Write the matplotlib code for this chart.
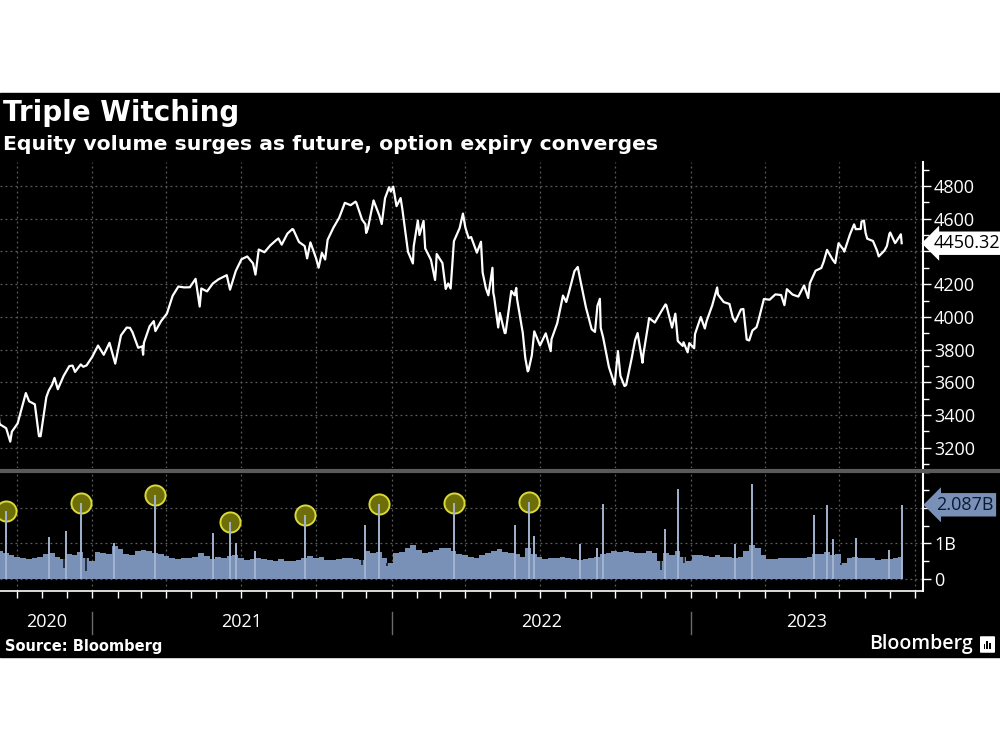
import matplotlib
matplotlib.use("Agg")
import matplotlib.pyplot as plt
import matplotlib.dates as mdates
import matplotlib.patches as mpatches
import matplotlib.transforms as mtransforms
from matplotlib.ticker import MultipleLocator, FixedLocator, FuncFormatter
import pandas as pd

# S&P 500 weekly closes (Fridays), Sep 11 2020 .. Sep 15 2023
price_values = [
    3340.97, 3319.47, 3298.46, 3348.44, 3477.13, 3483.81, 3465.39, 3269.96,
    3509.44, 3585.15, 3557.54, 3638.35, 3699.12, 3663.46, 3709.41, 3703.06, 3756.07,
    # 2021
    3824.68, 3768.25, 3841.47, 3714.24, 3886.83, 3934.83, 3906.71, 3811.15,
    3841.94, 3943.34, 3913.10, 3974.54, 4019.87, 4128.80, 4185.47, 4180.17, 4181.17,
    4232.60, 4173.85, 4155.86, 4204.11, 4229.89, 4247.44, 4166.45, 4280.70,
    4352.34, 4369.55, 4327.16, 4411.79, 4395.26, 4436.52, 4468.00, 4441.67, 4509.37,
    4535.43, 4458.58, 4432.99, 4455.48, 4357.04, 4391.34, 4471.37, 4544.90, 4605.38,
    4697.53, 4682.85, 4697.96, 4594.62, 4538.43, 4712.02, 4620.64, 4725.79, 4766.18,
    # 2022
    4677.03, 4662.85, 4397.94, 4431.85, 4500.53, 4418.64, 4348.87, 4384.65,
    4328.87, 4204.31, 4463.12, 4543.06, 4545.86, 4488.28, 4392.59, 4271.78, 4131.93,
    4123.34, 4023.89, 3901.36, 4158.24, 4108.54, 3900.86, 3674.84, 3911.74,
    3825.33, 3899.38, 3863.16, 3961.63, 4130.29, 4145.19, 4280.15, 4228.48, 4057.66,
    3924.26, 4067.36, 3873.33, 3693.23, 3585.62, 3639.66, 3583.07, 3752.75, 3901.06,
    3770.55, 3992.93, 3965.34, 4026.12, 4071.70, 3934.38, 3852.36, 3844.82, 3839.50,
    # 2023
    3895.08, 3999.09, 3972.61, 4070.56, 4136.48, 4090.46, 4079.09, 3970.04,
    4045.64, 3861.59, 3916.64, 3970.99, 4109.31, 4105.02, 4137.64, 4133.52, 4169.48,
    4136.25, 4124.08, 4191.98, 4205.45, 4282.37, 4298.86, 4409.59, 4348.33, 4450.38,
    4398.95, 4505.42, 4536.34, 4582.23, 4478.03, 4464.05, 4369.71, 4405.71,
    4515.77, 4457.49, 4450.32,
]
price_dates = pd.date_range("2020-09-11", "2023-09-15", freq="W-FRI")

# mid-week closes (turning points and swings)
extra_dates = pd.to_datetime([
    "2020-09-09", "2020-09-10", "2020-09-23", "2020-10-12", "2020-10-28",
    "2020-11-09", "2020-11-16", "2020-12-08", "2020-12-21",
    "2021-01-27", "2021-02-16", "2021-03-03", "2021-03-04", "2021-03-17",
    "2021-05-12", "2021-06-14", "2021-07-19", "2021-08-16", "2021-09-02",
    "2021-09-20", "2021-10-04", "2021-10-12", "2021-11-18", "2021-11-30",
    "2021-12-01", "2021-12-20", "2021-12-29",
    "2022-01-03", "2022-01-12", "2022-01-27", "2022-02-02", "2022-02-09",
    "2022-02-23", "2022-02-24", "2022-03-08", "2022-03-14", "2022-03-29",
    "2022-04-05", "2022-04-20", "2022-04-26", "2022-05-04", "2022-05-05",
    "2022-05-11", "2022-05-19", "2022-05-31", "2022-06-02", "2022-06-13",
    "2022-06-16", "2022-06-21", "2022-07-14", "2022-08-02", "2022-08-16",
    "2022-09-06", "2022-09-12", "2022-09-13", "2022-10-04", "2022-10-12",
    "2022-10-25", "2022-11-03", "2022-11-10", "2022-12-01", "2022-12-13",
    "2022-12-22", "2022-12-28",
    "2023-01-05", "2023-01-18", "2023-02-02", "2023-02-21", "2023-03-06",
    "2023-03-13", "2023-03-22", "2023-04-25", "2023-05-24", "2023-06-12",
    "2023-06-26", "2023-07-06", "2023-07-19", "2023-07-27", "2023-07-31",
    "2023-08-02", "2023-08-16", "2023-08-28", "2023-08-31", "2023-09-07",
    "2023-09-14",
])
extra_values = [
    3398.96, 3339.19, 3236.92, 3534.22, 3271.03,
    3550.50, 3626.91, 3702.25, 3694.92,
    3750.77, 3932.59, 3819.72, 3768.47, 3974.12,
    4063.04, 4255.15, 4258.49, 4479.71, 4536.95,
    4357.73, 4300.46, 4350.65, 4704.54, 4567.00,
    4513.04, 4568.02, 4793.06,
    4796.56, 4726.35, 4326.51, 4589.38, 4587.18,
    4225.50, 4288.70, 4170.70, 4173.11, 4631.60,
    4481.15, 4459.45, 4175.20, 4300.17, 4146.87,
    3935.18, 3900.79, 4132.15, 4176.82, 3749.63,
    3666.77, 3764.79, 3790.38, 4091.19, 4305.20,
    3908.19, 4110.41, 3932.69, 3790.93, 3577.03,
    3859.11, 3719.89, 3956.37, 4076.57, 4019.65,
    3822.39, 3783.22,
    3808.10, 3928.86, 4179.76, 3997.34, 4048.42,
    3855.76, 3936.97, 4071.63, 4115.24, 4338.93,
    4328.82, 4411.59, 4565.72, 4537.41, 4588.96,
    4513.39, 4404.33, 4433.31, 4507.66, 4451.14,
    4505.10,
]

# equity volume, weekly typical level (billion shares), weeks starting Mondays
vol_week_values = [
    0.80, 0.74, 0.66, 0.62, 0.58, 0.56, 0.60, 0.62, 0.70, 0.72, 0.62, 0.55,
    0.70, 0.68, 0.76, 0.58, 0.50,
    0.76, 0.72, 0.70, 0.92, 0.84, 0.70, 0.68, 0.80, 0.82, 0.80, 0.74, 0.70, 0.64,
    0.58, 0.56, 0.60, 0.58, 0.62, 0.72, 0.64, 0.56, 0.62, 0.58, 0.64, 0.66, 0.58,
    0.52, 0.56, 0.60, 0.56, 0.52, 0.50, 0.55, 0.50, 0.50, 0.52, 0.58, 0.64, 0.60,
    0.62, 0.54, 0.52, 0.56, 0.60, 0.58, 0.56, 0.54, 0.80, 0.74, 0.76, 0.58, 0.46,
    0.74, 0.76, 0.86, 0.96, 0.82, 0.74, 0.76, 0.82, 0.86, 0.88, 0.80, 0.70, 0.66,
    0.62, 0.60, 0.66, 0.72, 0.80, 0.84, 0.76, 0.72, 0.70, 0.62, 0.86, 0.70, 0.62,
    0.56, 0.58, 0.60, 0.62, 0.58, 0.56, 0.52, 0.56, 0.60, 0.62, 0.70, 0.74, 0.80,
    0.76, 0.78, 0.76, 0.72, 0.74, 0.80, 0.72, 0.50, 0.72, 0.68, 0.78, 0.62, 0.50,
    0.66, 0.66, 0.64, 0.62, 0.68, 0.62, 0.62, 0.60, 0.62, 0.80, 0.96, 0.86, 0.66,
    0.56, 0.56, 0.58, 0.60, 0.60, 0.58, 0.60, 0.62, 0.70, 0.70, 0.76, 0.66, 0.70,
    0.46, 0.60, 0.62, 0.60, 0.60, 0.58, 0.54, 0.56, 0.56, 0.58, 0.62,
]
vol_week_starts = pd.date_range("2020-09-07", "2023-09-11", freq="W-MON")
vol_end = pd.Timestamp("2023-09-16")

# single-day spikes (billion shares)
spike_dates = pd.to_datetime([
    "2020-11-09", "2020-11-30", "2021-01-27", "2021-05-28", "2021-06-25",
    "2021-07-19", "2021-11-30", "2022-05-31", "2022-06-24", "2022-08-19",
    "2022-09-09", "2022-09-16", "2022-11-30", "2022-12-16", "2023-02-24",
    "2023-03-17", "2023-05-31", "2023-06-16", "2023-06-23", "2023-07-21",
    "2023-08-31", "2023-09-15",
])
spike_values = [
    1.18, 1.35, 1.02, 1.30, 1.01,
    0.78, 1.52, 1.52, 1.21, 0.98,
    0.88, 2.11, 1.41, 2.54, 0.98,
    2.68, 1.80, 2.08, 1.13, 1.15,
    0.82, 2.087,
]

# half-day sessions (low volume)
dip_dates = pd.to_datetime([
    "2020-11-27", "2020-12-24", "2021-11-26", "2021-12-27",
    "2022-11-25", "2022-12-23", "2023-07-03",
])
dip_values = [0.30, 0.22, 0.40, 0.36, 0.26, 0.45, 0.38]

# triple witching days that are circled
witching_dates = pd.to_datetime([
    "2020-09-18", "2020-12-18", "2021-03-19", "2021-06-18",
    "2021-09-17", "2021-12-17", "2022-03-18", "2022-06-17",
])
witching_values = [1.92, 2.14, 2.37, 1.61, 1.80, 2.11, 2.14, 2.17]

years = [2020, 2021, 2022, 2023]

BG = "black"
GRID = "#5c5c5c"
VOL = "#7a91b7"
SPIKE = "#a3b3cf"

fig = plt.figure(figsize=(10, 7.5), dpi=100, facecolor="white")
fig.patches.append(mpatches.Rectangle((0, 1 - 657 / 750), 1, (657 - 93) / 750,
                                      transform=fig.transFigure, color=BG, zorder=-10))

x0 = pd.Timestamp("2020-09-10 12:00")
x1 = pd.Timestamp("2023-10-11")

ax1 = fig.add_axes([0, 1 - 468 / 750, 0.923, (468 - 162) / 750])
ax2 = fig.add_axes([0, 1 - 591 / 750, 0.923, (591 - 472) / 750])

for ax in (ax1, ax2):
    ax.set_facecolor("none")
    ax.set_xlim(x0, x1)
    for s in ("top", "left", "bottom"):
        ax.spines[s].set_visible(False)
    ax.spines["right"].set_color("white")
    ax.spines["right"].set_linewidth(1.5)
    ax.yaxis.tick_right()
    ax.xaxis.set_major_locator(mdates.MonthLocator(bymonth=[1, 4, 7, 10]))
    ax.xaxis.set_minor_locator(mdates.MonthLocator())
    ax.grid(True, which="major", color=GRID, linestyle=(0, (1.5, 2.5)), linewidth=0.9)
    ax.tick_params(axis="y", which="major", direction="out", length=6, width=1,
                   colors="white", labelsize=13, pad=2)
    ax.tick_params(axis="y", which="minor", direction="out", length=4, width=1,
                   colors="white")

# price panel
px = list(price_dates) + list(extra_dates)
py = list(price_values) + list(extra_values)
order = sorted(range(len(px)), key=lambda i: px[i])
ax1.plot([px[i] for i in order], [py[i] for i in order], color="white", lw=1.6,
         solid_joinstyle="round")
ax1.set_ylim(3076, 4947)
ax1.yaxis.set_major_locator(MultipleLocator(200))
ax1.yaxis.set_minor_locator(MultipleLocator(100))
last_price = price_values[-1]
# the tick under the last-value tag is hidden by the tag
ax1.yaxis.set_major_formatter(FuncFormatter(
    lambda v, p: "" if abs(v - last_price) < 100 else f"{v:.0f}"))
ax1.tick_params(axis="x", which="both", length=0, labelbottom=False)
for lab in ax1.get_yticklabels():
    lab.set_fontfamily("Open Sans")

blend1 = mtransforms.blended_transform_factory(ax1.transAxes, ax1.transData)
ax1.text(1.012, last_price, f"{last_price:.2f}", transform=blend1,
         ha="left", va="center", fontsize=13, color="black", family="Open Sans",
         bbox=dict(boxstyle="larrow,pad=0.15", fc="white", ec="none"), zorder=10)

# volume panel
vx = list(vol_week_starts) + [vol_end]
vy = list(vol_week_values) + [vol_week_values[-1]]
ax2.fill_between(vx, 0, vy, step="post", color=VOL, lw=0, zorder=2)
week_lookup = pd.Series(vol_week_values, index=vol_week_starts)
dip_top = [week_lookup.asof(d) for d in dip_dates]
ax2.vlines(dip_dates, dip_values, dip_top, color="#1a2433", lw=1.3, zorder=3)
ax2.vlines(spike_dates, 0, spike_values, color=SPIKE, lw=1.4, zorder=3)
ax2.scatter(witching_dates, witching_values, s=210, facecolor="#6e6e08",
            edgecolor="#d9d93a", linewidth=1.4, zorder=4)
ax2.vlines(witching_dates, 0, witching_values, color=SPIKE, lw=1.4, zorder=5)

ax2.set_ylim(-0.34, 3.01)
ax2.yaxis.set_major_locator(FixedLocator([0, 1, 2]))
ax2.yaxis.set_minor_locator(MultipleLocator(0.5))
ax2.set_yticklabels(["0", "1B", ""])
for lab in ax2.get_yticklabels():
    lab.set_fontfamily("Open Sans")
ax2.spines["bottom"].set_visible(True)
ax2.spines["bottom"].set_color("white")
ax2.spines["bottom"].set_linewidth(1.2)
ax2.tick_params(axis="x", which="both", direction="out", length=5, width=1,
                colors="white", labelbottom=False)

blend2 = mtransforms.blended_transform_factory(ax2.transAxes, ax2.transData)
ax2.text(1.014, spike_values[-1], f"{spike_values[-1]:.3f}B", transform=blend2,
         ha="left", va="center", fontsize=13, color="#0b1a33", family="Open Sans",
         bbox=dict(boxstyle="larrow,pad=0.15", fc=VOL, ec="none"), zorder=10)

# year labels under the axis
xb = mtransforms.blended_transform_factory(ax2.transData, fig.transFigure)
for y in years:
    start = max(pd.Timestamp(f"{y}-01-01"), x0)
    end = min(pd.Timestamp(f"{y + 1}-01-01"), x1)
    mid = start + (end - start) / 2
    ax2.text(mid, 1 - 622 / 750, str(y), transform=xb, ha="center", va="center",
             fontsize=13, color="white", family="Open Sans", clip_on=False)
    if y > years[0]:
        d = pd.Timestamp(f"{y}-01-01")
        ax2.plot([d, d], [1 - 612 / 750, 1 - 634 / 750], transform=xb, color="#6a6a6a",
                 lw=1, clip_on=False)

# separator between panels
fig.add_artist(plt.Line2D([0, 1], [1 - 471 / 750, 1 - 471 / 750], color="#5a5a5a",
                          lw=3, transform=fig.transFigure))

# titles
fig.text(0.003, 1 - 113 / 750, "Triple Witching", fontsize=20, fontweight="bold",
         color="white", va="center", ha="left")
fig.text(0.003, 1 - 144 / 750, "Equity volume surges as future, option expiry converges",
         fontsize=14.7, fontweight="bold", color="white", va="center", ha="left")
fig.text(0.005, 1 - 646 / 750, "Source: Bloomberg", fontsize=10.5, fontweight="bold",
         color="white", va="center", ha="left")
fig.text(0.973, 1 - 644 / 750, "Bloomberg", fontsize=14, color="white",
         va="center", ha="right", family="Open Sans", fontweight="semibold")
fig.patches.append(mpatches.FancyBboxPatch((0.981, 1 - 652 / 750), 0.013, 15 / 750,
                                           boxstyle="round,pad=0.001", fc="white",
                                           ec="none", transform=fig.transFigure))
for i, h in enumerate([5, 8, 6]):
    fig.patches.append(mpatches.Rectangle((0.9835 + i * 0.0028, 1 - 649 / 750), 0.0015,
                                          h / 750, fc="black", ec="none",
                                          transform=fig.transFigure))

fig.savefig("out.png", dpi=100, facecolor=fig.get_facecolor())
